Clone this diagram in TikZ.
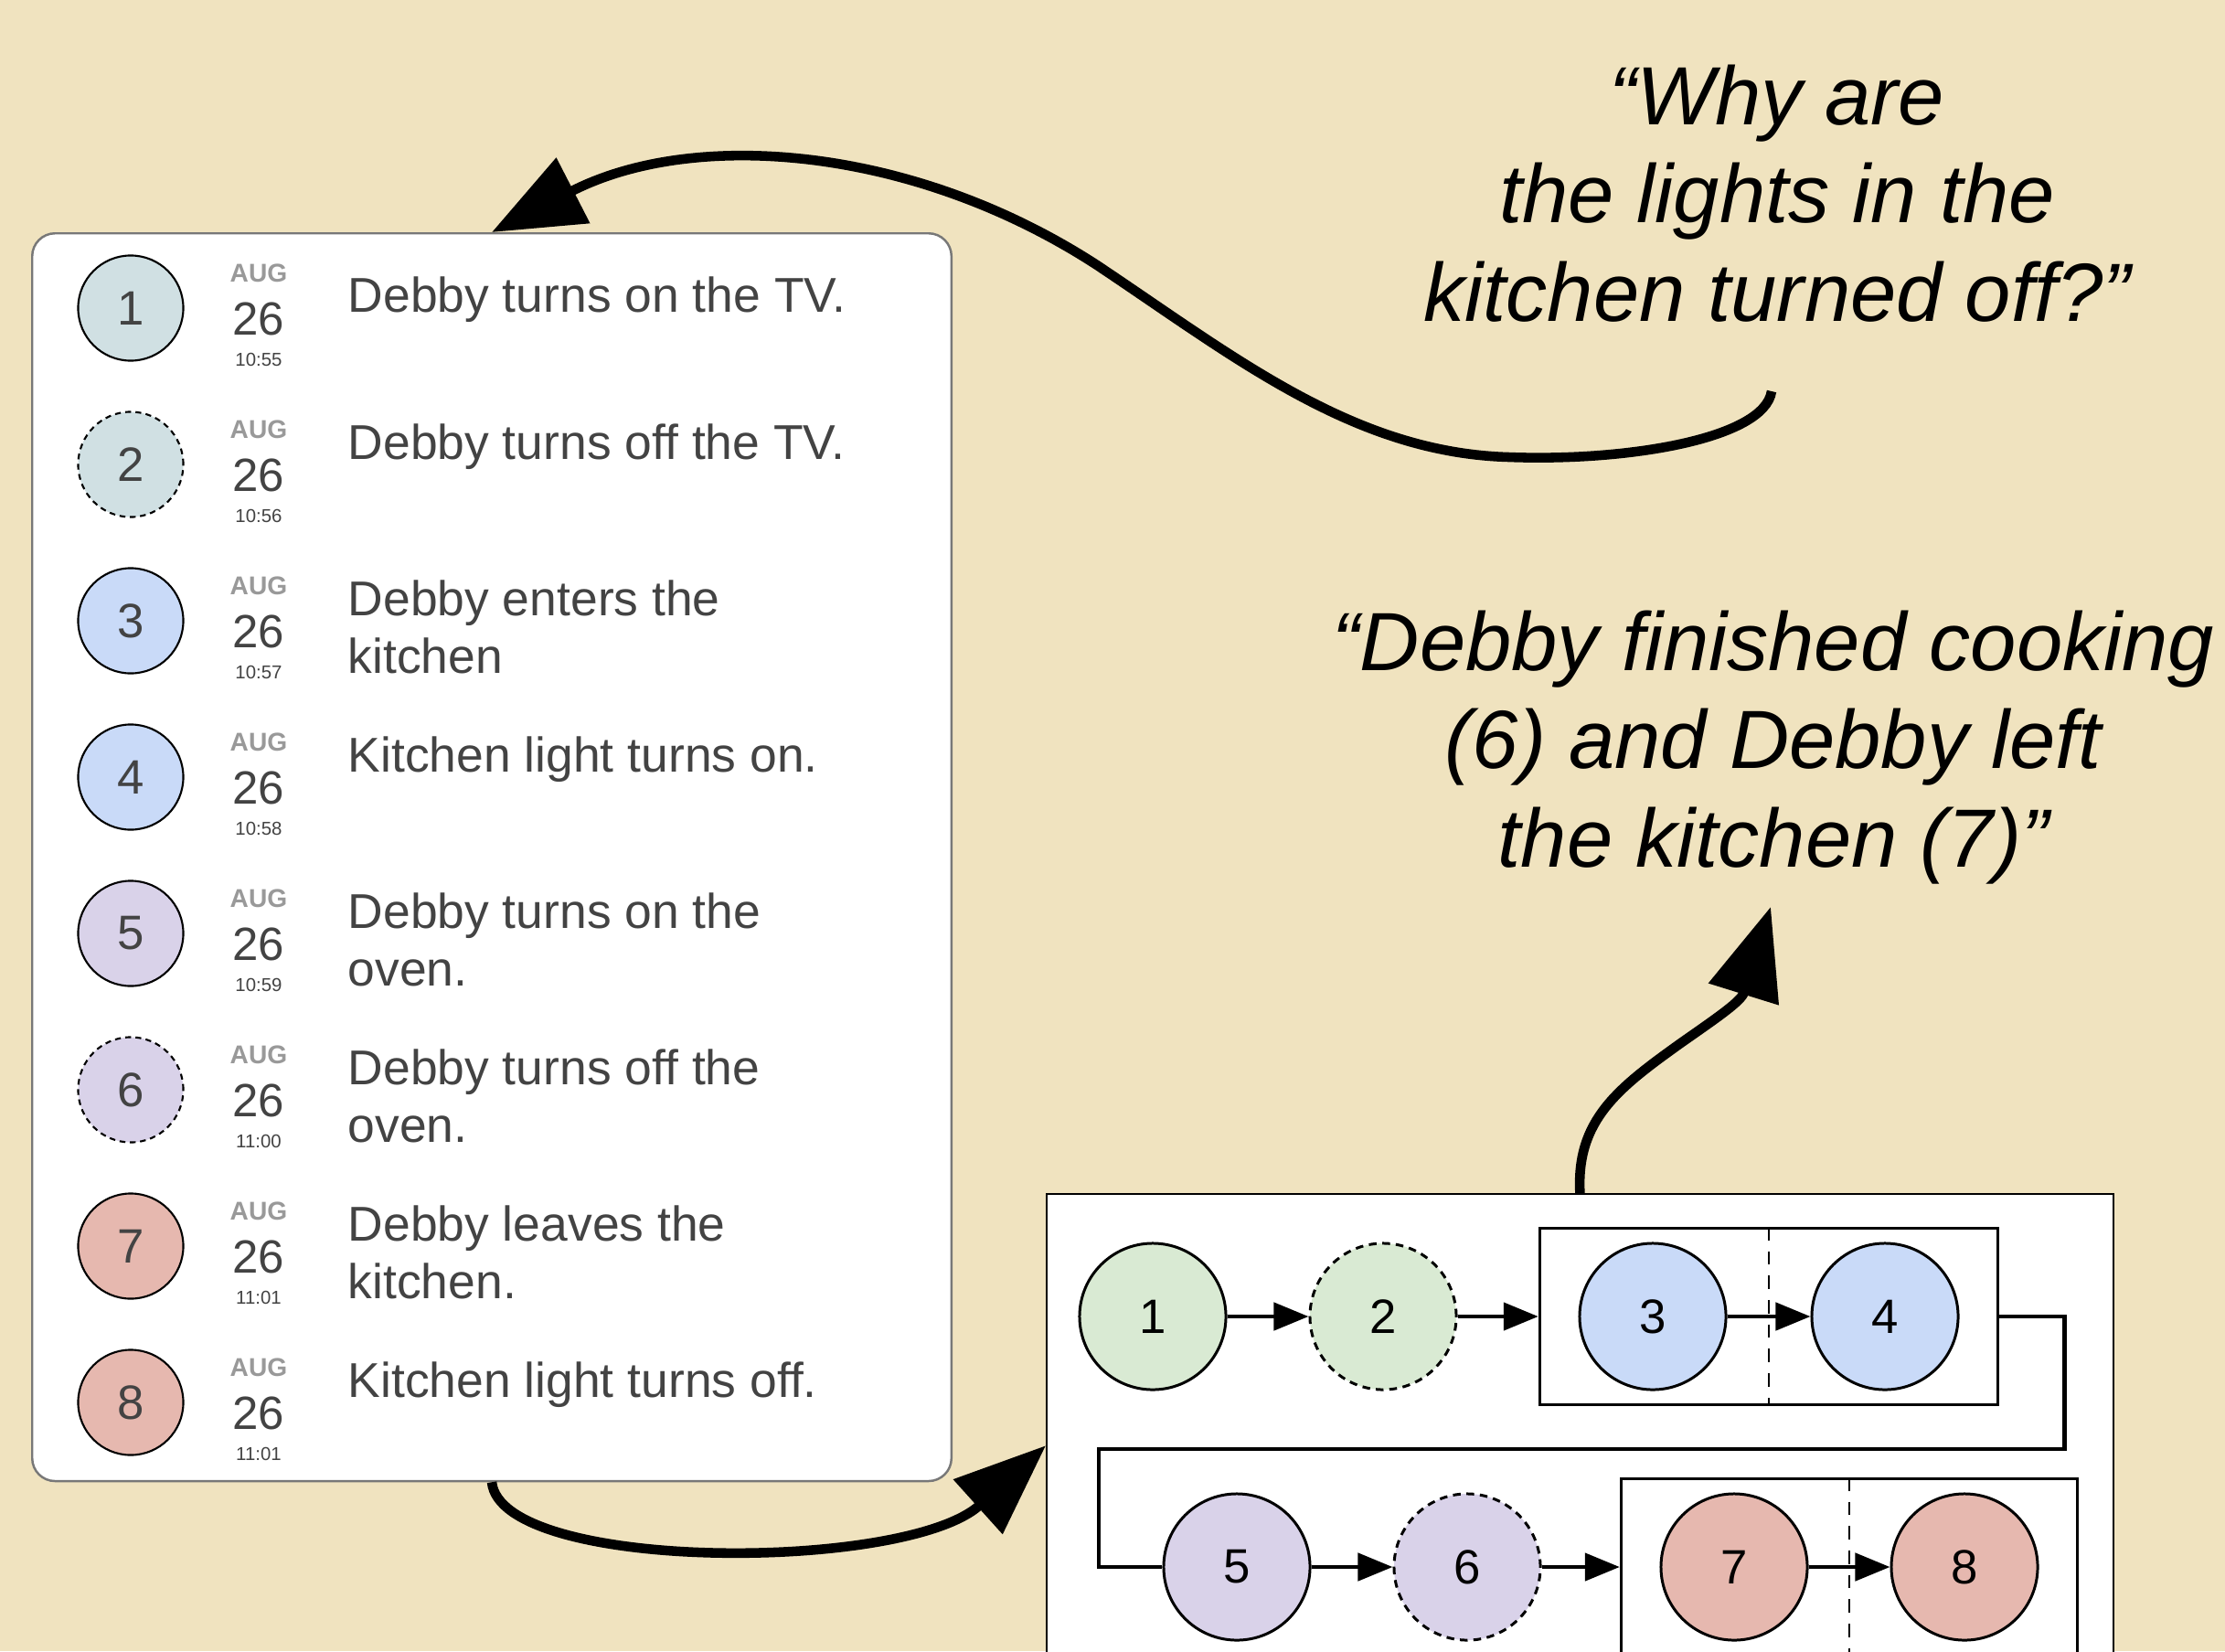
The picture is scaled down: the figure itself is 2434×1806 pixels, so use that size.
\documentclass[tikz,border=0pt]{standalone}
\usepackage{fontspec}
\setmainfont{Liberation Sans}
\usepackage{xcolor}
\usetikzlibrary{arrows.meta,fit}

\definecolor{bgtan}{RGB}{240,227,191}
\definecolor{txtgray}{RGB}{67,67,67}
\definecolor{auggray}{RGB}{153,153,153}
\definecolor{panelgray}{RGB}{120,120,120}
\definecolor{tvcyan}{HTML}{D0E0E3}
\definecolor{tvgreen}{HTML}{D9EAD3}
\definecolor{kitblue}{HTML}{C9DAF8}
\definecolor{ovenlilac}{HTML}{D9D2E9}
\definecolor{leaverose}{HTML}{E6B8AF}

\tikzset{
  panel/.style={draw=panelgray, line width=0.7pt, fill=white, rounded corners=0.25cm, anchor=north west, minimum width=10.05cm, minimum height=13.64cm, inner sep=0pt},
  evdot/.style={circle, draw=black, line width=0.6pt, minimum size=1.15cm, inner sep=0pt, text=txtgray, font=\fontsize{15}{18}\selectfont},
  evsolid/.style={},
  evdash/.style={dash pattern=on 1.8pt off 1.4pt},
  monthtext/.style={anchor=base, inner sep=0pt, text=auggray, font=\bfseries\fontsize{8}{9.6}\selectfont},
  daytext/.style={anchor=base, inner sep=0pt, text=txtgray, font=\fontsize{14.5}{17}\selectfont},
  clocktext/.style={anchor=base, inner sep=0pt, text=txtgray, font=\fontsize{5.8}{7}\selectfont},
  desctext/.style={anchor=north west, align=left, inner sep=0pt, text=txtgray, font=\fontsize{15.2}{18}\selectfont},
  flowframe/.style={draw=black, line width=0.6pt, fill=white, anchor=north west, minimum width=11.66cm, minimum height=5.5cm, inner sep=0pt},
  flowdot/.style={circle, draw=black, line width=0.85pt, minimum size=1.6cm, inner sep=0pt, font=\fontsize{15}{18}\selectfont},
  flowdash/.style={dash pattern=on 2.4pt off 1.8pt},
  grpbox/.style={draw=black, line width=0.95pt, inner xsep=0.42cm, inner ysep=0.15cm},
  divider/.style={draw=black, line width=0.6pt, dash pattern=on 4.2pt off 3.4pt},
  flowline/.style={line width=1.3pt},
  flowarrow/.style={line width=1.3pt, -{Triangle[length=0.38cm,width=0.3cm]}},
  bigarrow/.style={line width=3pt, -{Triangle[length=1cm,width=0.78cm]}},
  quotetext/.style={anchor=north, align=center, inner sep=0pt, font=\itshape\fontsize{25.7}{30.6}\selectfont}
}

\begin{document}
\begin{tikzpicture}[x=0.01cm,y=-0.01cm]
\useasboundingbox (0,0) rectangle (2434,1806);
\clip (0,0) rectangle (2434,1806);
\fill[bgtan] (0,0) rectangle (2434,1806);

% event list
\node[panel] (panel) at (34,254) {};
\foreach \n/\col/\dsh/\tm/\dy/\txt in {1/tvcyan/evsolid/10:55/-35/{Debby turns on the TV.},
  2/tvcyan/evdash/10:56/-45/{Debby turns off the TV.},
  3/kitblue/evsolid/10:57/-45/{Debby enters the\\kitchen},
  4/kitblue/evsolid/10:58/-45/{Kitchen light turns on.},
  5/ovenlilac/evsolid/10:59/-45/{Debby turns on the\\oven.},
  6/ovenlilac/evdash/11:00/-45/{Debby turns off the\\oven.},
  7/leaverose/evsolid/11:01/-45/{Debby leaves the\\kitchen.},
  8/leaverose/evsolid/11:01/-45/{Kitchen light turns off.}}{
  \pgfmathsetmacro\y{337+171*(\n-1)}
  \node[evdot,fill=\col,\dsh] (ev\n) at (143,\y) {\n};
  \node[monthtext] (mon\n) at (283,{\y-29}) {AUG};
  \node[daytext] (day\n) at (283,{\y+29}) {26};
  \node[clocktext] (clk\n) at (283,{\y+63}) {\tm};
  \node[desctext] (desc\n) at (380,{\y+\dy}) {\txt};
}

% event graph
\node[flowframe] (flow) at (1144,1305) {};
\node[flowdot,fill=tvgreen] (f1) at (1261,1440) {1};
\node[flowdot,fill=tvgreen,flowdash] (f2) at (1513,1440) {2};
\node[flowdot,fill=kitblue] (f3) at (1808,1440) {3};
\node[flowdot,fill=kitblue] (f4) at (2062,1440) {4};
\node[flowdot,fill=ovenlilac] (f5) at (1353,1714) {5};
\node[flowdot,fill=ovenlilac,flowdash] (f6) at (1605,1714) {6};
\node[flowdot,fill=leaverose] (f7) at (1897,1714) {7};
\node[flowdot,fill=leaverose] (f8) at (2149,1714) {8};
\node[grpbox,fit=(f3)(f4)] (g34) {};
\node[grpbox,fit=(f7)(f8)] (g78) {};
\draw[divider] (g34.north) -- (g34.south);
\draw[divider] (g78.north) -- (g78.south);
\coordinate (turn) at (1202,1585);
\draw[flowarrow] (f1) -- (f2);
\draw[flowarrow] (f2) -- (g34);
\draw[flowarrow] (f3) -- (f4);
\draw[flowline] (g34.east) -- ++(71,0) |- (turn) |- (f5);
\draw[flowarrow] (f5) -- (f6);
\draw[flowarrow] (f6) -- (g78);
\draw[flowarrow] (f7) -- (f8);

% questions and answers
\node[quotetext] (q1) at (1944,70) {“Why are\\the lights in the\\kitchen turned off?”};
\node[quotetext] (q2) at (1940,667) {“Debby finished cooking\\(6) and Debby left\\the kitchen (7)”};
\coordinate (q1tail) at (1938,428);
\coordinate (q2tip) at (1937,992);

\draw[bigarrow] (q1tail) .. controls (1930,480) and (1780,505) .. (1650,500)
  .. controls (1480,495) and (1350,390) .. (1200,290)
  .. controls (1000,160) and (760,140) .. (panel.north);
\draw[bigarrow] (panel.south) .. controls (548,1720) and (990,1720) .. (flow.west);
\draw[bigarrow] (flow.north) .. controls (1724,1225) and (1770,1190) .. (1840,1140)
  .. controls (1880,1112) and (1905,1095) .. (q2tip);
\end{tikzpicture}
\end{document}
